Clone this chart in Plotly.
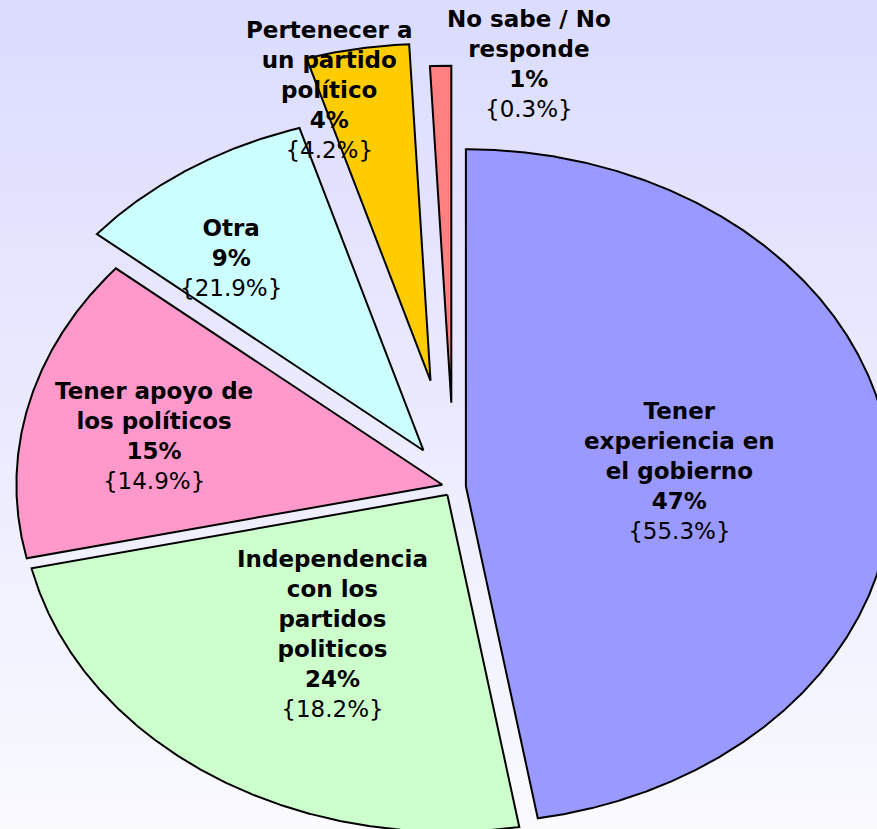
import numpy as np
import plotly.graph_objects as go

# ---- data ----
categories = [
    "Tener<br>experiencia en<br>el gobierno",
    "Independencia<br>con los<br>partidos<br>politicos",
    "Tener apoyo de<br>los políticos",
    "Otra",
    "Pertenecer a<br>un partido<br>político",
    "No sabe / No<br>responde",
]
values = [47.3, 24.2, 14.6, 9.2, 3.9, 0.8]          # slice shares (%)
previous = [55.3, 18.2, 14.9, 21.9, 4.2, 0.3]       # values in braces (%)

# ---- style ----
colors = ["#9999FF", "#CCFFCC", "#FF99CC", "#CCFFFF", "#FFCC00", "#FF8080"]
explode = [0.028, 0.028, 0.028, 0.13, 0.32, 0.25]
label_px = [(679, 471), (332, 634), (154, 436), (231, 258), (329, 90), (529, 64)]

W, H = 877, 829
CX, CY, RX, RY = 454, 487, 426, 337

fig = go.Figure()

total = sum(values)
start = 0.0
for cat, v, col, e in zip(categories, values, colors, explode):
    sweep = 360.0 * v / total
    a0, a1 = start, start + sweep
    mid = np.radians((a0 + a1) / 2)
    ox, oy = e * np.sin(mid), e * np.cos(mid)
    th = np.radians(np.linspace(a0, a1, max(int(sweep * 4), 8)))
    xs = np.concatenate([[ox], ox + np.sin(th), [ox]])
    ys = np.concatenate([[oy], oy + np.cos(th), [oy]])
    fig.add_trace(go.Scatter(
        x=xs, y=ys, mode="lines", fill="toself", fillcolor=col,
        line=dict(color="black", width=2), hoverinfo="skip", showlegend=False,
    ))
    start = a1

# background gradient
n = 80
top, bot = np.array([220, 220, 255]), np.array([250, 250, 255])
shapes = []
for i in range(n):
    c = top + (bot - top) * i / (n - 1)
    shapes.append(dict(
        type="rect", xref="paper", yref="paper", layer="below",
        x0=0, x1=1, y0=1 - (i + 1) / n, y1=1 - i / n + 0.001,
        fillcolor="rgb(%d,%d,%d)" % tuple(c), line=dict(width=0),
    ))

annotations = []
for cat, v, p, (px, py) in zip(categories, values, previous, label_px):
    annotations.append(dict(
        x=px / W, y=1 - py / H, xref="paper", yref="paper",
        xanchor="center", yanchor="middle", showarrow=False, align="center",
        text="<b>%s<br>%d%%</b><br>{%.1f%%}" % (cat, round(v), p),
        font=dict(family="DejaVu Sans", size=23, color="black"),
    ))

fig.update_layout(
    width=W, height=H, margin=dict(l=0, r=0, t=0, b=0),
    paper_bgcolor="rgb(235,235,255)", plot_bgcolor="rgba(0,0,0,0)",
    xaxis=dict(range=[-CX / RX, (W - CX) / RX], visible=False, fixedrange=True),
    yaxis=dict(range=[-(H - CY) / RY, CY / RY], visible=False, fixedrange=True),
    shapes=shapes, annotations=annotations,
)

fig.write_html("out.html", config={"displayModeBar": False},
               post_script="document.body.style.margin='0';document.body.style.overflow='hidden';")
